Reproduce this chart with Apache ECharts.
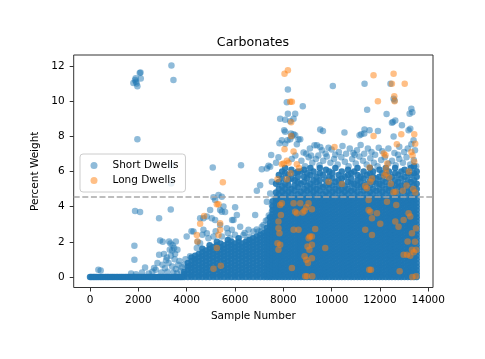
<!DOCTYPE html>
<html>
<head>
<meta charset="utf-8">
<script src="https://cdn.jsdelivr.net/npm/echarts@6/dist/echarts.min.js"></script>
<style>
  html, body { margin: 0; padding: 0; background: #fff; }
  #chart { width: 485px; height: 359px; }
</style>
</head>
<body>
<div id="chart"></div>
<script>
const xTicks = [0, 2000, 4000, 6000, 8000, 10000, 12000, 14000]
const yTicks = [0, 2, 4, 6, 8, 10, 12]
const threshold = 4.58

// short dwells that read 0 %, first part of the run
const shortZeroX = [
  0, 60, 130, 200, 270, 340, 420, 490, 560, 640, 710, 780, 860, 930, 1000, 1080,
  1150, 1230, 1300, 1370, 1450, 1520, 1600, 1670, 1740, 1820, 1890, 1960, 2040,
  2110, 2190, 2260, 2330, 2410, 2480, 2560, 2630, 2700, 2780, 2850, 2920, 3000,
  3070, 3150, 3220, 3290, 3370, 3440, 3520, 3590, 3660, 3740, 3810,
]

// dense part of the short dwells, read column by column (sample number -> weights)
const shortColX = [
  3900, 4050, 4200, 4350, 4500, 4650, 4800, 4950, 5100, 5250, 5400, 5550, 5700,
  5850, 6000, 6150, 6300, 6450, 6600, 6750, 6900, 7050, 7200, 7330, 7450,
  7560, 7700, 7815, 7950, 8075, 8210, 8335, 8470, 8600, 8725, 8860, 8985, 9120,
  9250, 9375, 9510, 9640, 9765, 9900, 10030, 10155, 10290, 10420, 10545, 10680,
  10810, 10935, 11070, 11200, 11325, 11460, 11590, 11715, 11850, 11980, 12105,
  12240, 12370, 12495, 12630, 12760, 12885, 13020, 13150, 13275, 13410, 13520,
]
const shortColY = [
  [0,.15,.3],
  [0,.2,.4,.6,.8],
  [0,.1,.3,.5,.7,.9,1.1],
  [0,.2,.4,.6,.8,1,1.2],
  [0,.1,.3,.5,.7,.9,1.1,1.3],
  [0,.2,.4,.6,.8,1,1.2,1.4,1.6],
  [0,.1,.3,.5,.7,.9,1.1,1.3,1.5],
  [0,.2,.4,.6,.8,1,1.2,1.4,1.6,1.8],
  [0,.1,.3,.5,.7,.9,1.1,1.3,1.5,1.7],
  [0,.2,.4,.6,.8,1,1.2,1.4,1.6,1.8,2],
  [0,.1,.3,.5,.7,.9,1.1,1.3,1.5,1.7,1.9],
  [0,.2,.4,.6,.8,1,1.2,1.4,1.6,1.8],
  [0,.1,.3,.5,.7,.9,1.1,1.3,1.5,1.7,1.9,2.1],
  [0,.2,.4,.6,.8,1,1.2,1.4,1.6,1.8,2],
  [0,.1,.3,.5,.7,.9,1.1,1.3,1.5,1.7,1.9],
  [0,.2,.4,.6,.8,1,1.2,1.4,1.6,1.8,2,2.2],
  [0,.1,.3,.5,.7,.9,1.1,1.3,1.5,1.7,1.9],
  [0,.2,.4,.6,.8,1,1.2,1.4,1.6,1.8,2],
  [0,.1,.3,.5,.7,.9,1.1,1.3,1.5,1.7,1.9,2.1],
  [0,.2,.4,.6,.8,1,1.2,1.4,1.6,1.8,2,2.2],
  [0,.1,.3,.5,.7,.9,1.1,1.3,1.5,1.7,1.9,2.1,2.3],
  [0,.2,.4,.6,.8,1,1.2,1.4,1.6,1.8,2,2.2,2.4],
  [0,.1,.3,.5,.7,.9,1.1,1.3,1.5,1.7,1.9,2.1,2.3,2.5],
  [0,.2,.4,.6,.8,1,1.2,1.4,1.6,1.8,2,2.2,2.4,2.6,2.8],
  [0,.1,.3,.5,.7,.9,1.1,1.3,1.5,1.7,1.9,2.1,2.3,2.5,2.7,2.9,3.1,3.4],
  [0,.2,.4,.6,.8,1,1.2,1.4,1.6,1.8,2,2.2,2.4,2.6,2.8,3,3.2,3.4,3.6,3.8,4,4.3],
  [0,.1,.3,.5,.7,.9,1.1,1.3,1.5,1.7,1.9,2.1,2.3,2.5,2.7,2.9,3.1,3.3,3.5,3.7,3.9,4.1,4.3,4.5,4.8,5.3],
  [0,.2,.4,.6,.8,1,1.2,1.4,1.6,1.8,2,2.2,2.4,2.6,2.8,3,3.2,3.4,3.6,3.8,4,4.2,4.4,4.7,5,5.4,5.8],
  [0,.1,.3,.5,.7,.9,1.1,1.3,1.5,1.7,1.9,2.1,2.3,2.5,2.7,2.9,3.1,3.3,3.5,3.7,3.9,4.1,4.3,4.5,4.85,5.15,5.6,6],
  [0,.2,.4,.6,.8,1,1.2,1.4,1.6,1.8,2,2.2,2.4,2.6,2.8,3,3.2,3.4,3.6,3.8,4,4.2,4.4,4.7,5,5.3,5.9,6.2],
  [0,.1,.3,.5,.7,.9,1.1,1.3,1.5,1.7,1.9,2.1,2.3,2.5,2.7,2.9,3.1,3.3,3.5,3.7,3.9,4.1,4.3,4.5,4.85,5.2,5.5,5.8],
  [0,.2,.4,.6,.8,1,1.2,1.4,1.6,1.8,2,2.2,2.4,2.6,2.8,3,3.2,3.4,3.6,3.8,4,4.2,4.4,4.7,5,5.6,6.1],
  [0,.1,.3,.5,.7,.9,1.1,1.3,1.5,1.7,1.9,2.1,2.3,2.5,2.7,2.9,3.1,3.3,3.5,3.7,3.9,4.1,4.3,4.5,4.9,5.2,5.5,5.9],
  [0,.2,.4,.6,.8,1,1.2,1.4,1.6,1.8,2,2.2,2.4,2.6,2.8,3,3.2,3.4,3.6,3.8,4,4.2,4.4,4.7,5.1,5.4,5.7,6],
  [0,.1,.3,.5,.7,.9,1.1,1.3,1.5,1.7,1.9,2.1,2.3,2.5,2.7,2.9,3.1,3.3,3.5,3.7,3.9,4.1,4.3,4.5,4.85,5.3,6],
  [0,.2,.4,.6,.8,1,1.2,1.4,1.6,1.8,2,2.2,2.4,2.6,2.8,3,3.2,3.4,3.6,3.8,4,4.2,4.4,4.7,5,5.4,5.7,6.1],
  [0,.1,.3,.5,.7,.9,1.1,1.3,1.5,1.7,1.9,2.1,2.3,2.5,2.7,2.9,3.1,3.3,3.5,3.7,3.9,4.1,4.3,4.5,4.9,5.2,5.6,5.9],
  [0,.2,.4,.6,.8,1,1.2,1.4,1.6,1.8,2,2.2,2.4,2.6,2.8,3,3.2,3.4,3.6,3.8,4,4.2,4.4,4.7,5,5.3,5.8,6.2],
  [0,.1,.3,.5,.7,.9,1.1,1.3,1.5,1.7,1.9,2.1,2.3,2.5,2.7,2.9,3.1,3.3,3.5,3.7,3.9,4.1,4.3,4.5,4.85,5.15,5.5,6],
  [0,.2,.4,.6,.8,1,1.2,1.4,1.6,1.8,2,2.2,2.4,2.6,2.8,3,3.2,3.4,3.6,3.8,4,4.2,4.4,4.7,5,5.4,5.7],
  [0,.1,.3,.5,.7,.9,1.1,1.3,1.5,1.7,1.9,2.1,2.3,2.5,2.7,2.9,3.1,3.3,3.5,3.7,3.9,4.1,4.3,4.5,4.9,5.2,5.5,5.9,6.2],
  [0,.2,.4,.6,.8,1,1.2,1.4,1.6,1.8,2,2.2,2.4,2.6,2.8,3,3.2,3.4,3.6,3.8,4,4.2,4.4,4.7,5.1,5.8],
  [0,.1,.3,.5,.7,.9,1.1,1.3,1.5,1.7,1.9,2.1,2.3,2.5,2.7,2.9,3.1,3.3,3.5,3.7,3.9,4.1,4.3,4.5,4.85,5.2,5.5,6.1],
  [0,.2,.4,.6,.8,1,1.2,1.4,1.6,1.8,2,2.2,2.4,2.6,2.8,3,3.2,3.4,3.6,3.8,4,4.2,4.4,4.7,5,5.3,5.7,6],
  [0,.1,.3,.5,.7,.9,1.1,1.3,1.5,1.7,1.9,2.1,2.3,2.5,2.7,2.9,3.1,3.3,3.5,3.7,3.9,4.1,4.3,4.5,4.85,5.2,5.6,5.9],
  [0,.2,.4,.6,.8,1,1.2,1.4,1.6,1.8,2,2.2,2.4,2.6,2.8,3,3.2,3.4,3.6,3.8,4,4.2,4.4,4.7,5,5.4,6.2],
  [0,.1,.3,.5,.7,.9,1.1,1.3,1.5,1.7,1.9,2.1,2.3,2.5,2.7,2.9,3.1,3.3,3.5,3.7,3.9,4.1,4.3,4.5,4.9,5.2,5.5,5.8],
  [0,.2,.4,.6,.8,1,1.2,1.4,1.6,1.8,2,2.2,2.4,2.6,2.8,3,3.2,3.4,3.6,3.8,4,4.2,4.4,4.7,5,5.3,5.6,6],
  [0,.1,.3,.5,.7,.9,1.1,1.3,1.5,1.7,1.9,2.1,2.3,2.5,2.7,2.9,3.1,3.3,3.5,3.7,3.9,4.1,4.3,4.5,4.85,5.15,5.7],
  [0,.2,.4,.6,.8,1,1.2,1.4,1.6,1.8,2,2.2,2.4,2.6,2.8,3,3.2,3.4,3.6,3.8,4,4.2,4.4,4.7,5,5.4,5.8,6.1],
  [0,.1,.3,.5,.7,.9,1.1,1.3,1.5,1.7,1.9,2.1,2.3,2.5,2.7,2.9,3.1,3.3,3.5,3.7,3.9,4.1,4.3,4.5,4.9,5.3,5.6,5.9],
  [0,.2,.4,.6,.8,1,1.2,1.4,1.6,1.8,2,2.2,2.4,2.6,2.8,3,3.2,3.4,3.6,3.8,4,4.2,4.4,4.7,5,5.3,6],
  [0,.1,.3,.5,.7,.9,1.1,1.3,1.5,1.7,1.9,2.1,2.3,2.5,2.7,2.9,3.1,3.3,3.5,3.7,3.9,4.1,4.3,4.5,4.85,5.2,5.5,5.8,6.2],
  [0,.2,.4,.6,.8,1,1.2,1.4,1.6,1.8,2,2.2,2.4,2.6,2.8,3,3.2,3.4,3.6,3.8,4,4.2,4.4,4.7,5.1,5.4,5.7],
  [0,.1,.3,.5,.7,.9,1.1,1.3,1.5,1.7,1.9,2.1,2.3,2.5,2.7,2.9,3.1,3.3,3.5,3.7,3.9,4.1,4.3,4.5,4.9,5.2,5.6,6],
  [0,.2,.4,.6,.8,1,1.2,1.4,1.6,1.8,2,2.2,2.4,2.6,2.8,3,3.2,3.4,3.6,3.8,4,4.2,4.4,4.7,5,5.3,5.8],
  [0,.1,.3,.5,.7,.9,1.1,1.3,1.5,1.7,1.9,2.1,2.3,2.5,2.7,2.9,3.1,3.3,3.5,3.7,3.9,4.1,4.3,4.5,4.85,5.2,5.5,5.9,6.2],
  [0,.2,.4,.6,.8,1,1.2,1.4,1.6,1.8,2,2.2,2.4,2.6,2.8,3,3.2,3.4,3.6,3.8,4,4.2,4.4,4.7,5,5.4,5.7,6],
  [0,.1,.3,.5,.7,.9,1.1,1.3,1.5,1.7,1.9,2.1,2.3,2.5,2.7,2.9,3.1,3.3,3.5,3.7,3.9,4.1,4.3,4.5,4.9,5.3,5.6],
  [0,.2,.4,.6,.8,1,1.2,1.4,1.6,1.8,2,2.2,2.4,2.6,2.8,3,3.2,3.4,3.6,3.8,4,4.2,4.4,4.7,5,5.3,5.7,6.1],
  [0,.1,.3,.5,.7,.9,1.1,1.3,1.5,1.7,1.9,2.1,2.3,2.5,2.7,2.9,3.1,3.3,3.5,3.7,3.9,4.1,4.3,4.5,4.85,5.2,5.5,5.9],
  [0,.2,.4,.6,.8,1,1.2,1.4,1.6,1.8,2,2.2,2.4,2.6,2.8,3,3.2,3.4,3.6,3.8,4,4.2,4.4,4.7,5,5.4,5.8,6.2],
  [0,.1,.3,.5,.7,.9,1.1,1.3,1.5,1.7,1.9,2.1,2.3,2.5,2.7,2.9,3.1,3.3,3.5,3.7,3.9,4.1,4.3,4.5,4.9,5.2,5.6,6],
  [0,.2,.4,.6,.8,1,1.2,1.4,1.6,1.8,2,2.2,2.4,2.6,2.8,3,3.2,3.4,3.6,3.8,4,4.2,4.4,4.7,5,5.3,5.7],
  [0,.1,.3,.5,.7,.9,1.1,1.3,1.5,1.7,1.9,2.1,2.3,2.5,2.7,2.9,3.1,3.3,3.5,3.7,3.9,4.1,4.3,4.5,4.85,5.2,5.5,5.9,6.2],
  [0,.2,.4,.6,.8,1,1.2,1.4,1.6,1.8,2,2.2,2.4,2.6,2.8,3,3.2,3.4,3.6,3.8,4,4.2,4.4,4.7,5.1,5.4,5.8],
  [0,.1,.3,.5,.7,.9,1.1,1.3,1.5,1.7,1.9,2.1,2.3,2.5,2.7,2.9,3.1,3.3,3.5,3.7,3.9,4.1,4.3,4.5,4.9,5.2,5.6,6],
  [0,.2,.4,.6,.8,1,1.2,1.4,1.6,1.8,2,2.2,2.4,2.6,2.8,3,3.2,3.4,3.6,3.8,4,4.2,4.4,4.7,5,5.3,5.7,6.1],
  [0,.1,.3,.5,.7,.9,1.1,1.3,1.5,1.7,1.9,2.1,2.3,2.5,2.7,2.9,3.1,3.3,3.5,3.7,3.9,4.1,4.3,4.5,4.85,5.2,5.5,5.9],
  [0,.2,.4,.6,.8,1,1.2,1.4,1.6,1.8,2,2.2,2.4,2.6,2.8,3,3.2,3.4,3.6,3.8,4,4.2,4.4,4.7,5,5.4,5.8,6.2],
  [0,.1,.3,.5,.7,.9,1.1,1.3,1.5,1.7,1.9,2.1,2.3,2.5,2.7,2.9,3.1,3.3,3.5,3.7,3.9,4.1,4.3,4.5,4.9,5.2,5.5,5.9,6.3],
  [0,.2,.4,.6,.8,1,1.2,1.4,1.6,1.8,2,2.2,2.4,2.6,2.8,3,3.2,3.4,3.6,3.8,4,4.2,4.4,4.7,5,5.3,5.7,6],
]

// scattered short dwells read one by one
const shortPoints = [
  [1795,11.03],[1864,11.2],[1900,11.1],[1930,11.0],[1960,10.85],[1890,11.3],[2058,11.6],[2090,11.62],
  [2100,11.28],[3370,12.02],[3452,11.2],[1960,7.83],[3370,6.35],[3360,5.32],
  [1864,3.75],[2071,3.7],[2858,3.34],[3342,3.83],[1836,1.77],[1836,0.98],[345,0.41],[441,0.37],
  [2278,0.54],[1700,0.2],[1900,0.15],[2150,0.25],
  [2900,2.07],[3010,2.0],[3272,2.01],[3550,2.01],[3480,1.64],[3616,1.55],[3330,1.9],[3400,1.5],
  [3060,1.3],[2860,1.26],[3180,1.1],[3350,1.2],[3500,1.0],[3700,0.9],[2790,0.79],[2651,0.51],
  [2720,0.41],[3000,0.7],[3100,0.5],[3250,0.8],[3400,0.6],[3550,0.45],[3650,0.7],[3750,0.35],
  [3200,0.3],[3450,0.25],[2950,0.25],[3600,0.2],[3800,0.55],[2580,0.3],[2430,0.2],[3300,1.55],
  [3420,1.8],[3150,0.95],[3520,1.3],
  [4280,2.58],[4420,1.64],[4694,2.68],[4834,3.43],[4971,3.81],[5040,3.34],[5177,3.24],[4834,2.49],
  [5110,2.3],[5455,2.3],[5662,2.77],[5938,3.24],[5870,2.68],[6213,2.86],[6351,2.39],[6558,2.68],
  [6765,2.58],[6972,2.58],[7180,2.96],[7346,3.24],[7526,3.71],[7526,4.09],[7320,4.28],[7456,4.75],
  [6835,3.52],[6077,3.52],[5522,4.0],[5590,3.7],[5385,2.96],[4557,1.92],[4350,0.98],[4140,1.17],
  [5080,6.22],[6250,6.35],[5317,4.66],[5455,4.56],[5110,4.53],[5177,4.37],[5385,3.81],[5455,3.71],
  [4557,3.34],[4694,3.34],[6006,3.96],[5880,3.24],[6905,4.9],[7278,3.2],[7112,2.86],[7526,5.41],
  [7319,6.17],[7457,6.26],[7110,6.13],[7387,6.32],[7040,5.22],[7498,6.94],
  [4000,2.3],[4200,2.6],[4650,2.4],[4900,2.2],[5200,2.6],[5700,2.5],[6000,2.4],[6400,2.5],
  [6600,2.3],[6900,2.7],[7100,2.6],[7400,3.5],[5800,2.2],[6500,2.1],[4450,2.0],[3950,1.0],
  [3900,0.7],[4100,0.6],
  [8190,10.66],[8145,9.94],[8190,9.28],[8492,9.28],[7870,9.0],[8078,8.94],[8424,9.0],[8285,8.86],
  [8806,9.7],[8314,8.15],[8424,8.11],[8036,8.34],[8078,8.26],[8492,8.05],[8355,8.0],[7940,7.77],
  [8175,7.77],[8630,7.81],[7840,7.6],[8078,7.58],[8561,7.54],[8700,7.83],[8285,7.83],[8838,7.07],
  [9528,8.38],[9640,8.3],[10050,10.86],[10530,8.21],[11363,10.98],[11470,9.5],[11156,8.05],
  [11350,8.15],[11360,8.39],[11225,8.11],[11570,8.34],[11917,8.3],[12275,9.26],[12435,10.98],
  [12565,10.13],[12606,10.03],[12538,8.81],[12495,8.77],[12635,8.9],[12565,7.99],[12910,8.62],
  [13186,8.34],[13255,8.43],[13300,9.57],[13340,9.37],[13228,9.28],[13390,7.77],[9290,7.49],
  [9390,7.49],[9528,7.39],[9870,7.35],
  [9600,7.2],[9750,7.0],[10000,7.25],[10150,6.95],[10300,7.1],[10450,7.45],[10600,7.0],[10750,7.3],
  [10900,7.05],[11050,7.2],[11200,7.5],[11350,7.0],[11500,7.3],[11650,7.1],[11800,6.95],[11950,7.35],
  [12100,7.15],[12350,7.3],[12600,7.05],[12800,7.4],[13000,7.1],[13150,7.3],[13300,7.55],[13450,7.2],
  [9100,7.3],[8950,7.0],[9450,6.9],
  [7700,6.5],[7800,6.8],[8350,6.7],[8500,6.9],[8750,6.6],[8900,6.3],[9050,6.8],[9200,6.5],
  [9350,6.7],[9500,6.35],[9650,6.6],[9800,6.85],[9950,6.5],[10100,6.7],[10250,6.4],[10400,6.8],
  [10550,6.55],[10700,6.3],[10850,6.7],[11000,6.45],[11150,6.85],[11300,6.6],[11450,6.4],[11600,6.75],
  [11750,6.5],[11900,6.3],[12050,6.65],[12200,6.8],[12350,6.45],[12500,6.6],[12650,6.35],[12800,6.7],
  [12950,6.5],[13100,6.8],[13250,6.4],[13400,6.65],[13500,6.3],[9150,6.9],[10950,6.95],[12750,6.95],
]

const longPoints = [
  [8050,11.55],[8190,11.75],[8285,9.96],[8355,9.96],[8326,8.8],[8326,8.02],[8050,7.26],[8424,7.13],
  [7940,6.41],[8147,6.6],[8561,6.41],[8008,6.45],[8216,6.49],[7760,5.55],[8145,5.55],[8300,5.9],[8650,6.2],
  [11735,11.47],[12565,11.56],[13025,10.98],[12495,10.98],[11915,9.99],[12593,10.28],[12606,9.99],
  [11735,8.02],[12883,8.11],[12700,7.54],[13420,8.11],[13460,7.58],[10120,7.39],
  [11570,6.22],[11670,5.6],[11600,5.41],[11390,5.17],[11460,5.04],[9872,5.41],[10425,5.28],
  [12160,7.02],[12230,6.92],[12300,6.45],[12260,6.17],[12180,5.77],[12260,5.9],[12380,5.65],
  [12450,5.3],[12560,4.81],[12650,4.85],[13300,7.1],[13350,6.9],[13420,6.55],[13200,6.0],
  [13100,5.2],[12950,4.9],[13380,5.0],[13460,4.8],
  [5497,5.38],[5248,4.13],[5317,4.13],[4722,3.47],[4557,3.02],[4420,2.39],[4445,2.02],[5385,3.06],
  [5385,2.68],[5317,2.39],[5248,1.64],[5110,0.47],[5414,0.64],
  [7940,4.19],[7870,4.09],[7900,3.52],[7800,3.15],[7800,2.77],[7760,1.92],[7800,1.55],[7840,2.49],
  [7870,1.83],[8425,4.19],[8700,4.19],[8560,3.62],[8425,2.68],[8630,2.68],[8805,3.66],[9045,4.19],
  [8490,3.71],[8950,3.96],[8880,3.77],[8355,0.51],[8906,0.04],[8880,1.17],[9050,2.2],[9100,2.3],
  [9000,1.73],[9080,1.55],[8950,0.98],[9020,0.79],[9200,0.04],[8980,0.04],[9184,3.85],[9320,2.72],
  [9184,2.3],[9184,1.83],[9184,1.07],[9735,1.64],
  [11530,4.37],[11530,3.81],[11600,3.71],[11670,3.34],[11876,3.62],[12013,3.02],[12290,4.28],
  [12675,4.09],[11390,2.68],[11670,2.39],[11556,0.41],[11630,0.41],
  [12635,3.15],[12770,2.86],[12980,3.24],[13185,3.62],[13255,3.43],[13490,2.77],[13325,2.49],
  [13145,2.02],[13325,1.55],[13500,1.55],[12980,1.26],[13120,1.26],[13255,1.2],[12815,0.32],
  [13490,0.04],[13340,0.0],[13400,1.4],[13450,2.0],
]

// the packed part of the run: zero readings plus the column readings
const shortDense = shortZeroX.map(x => [x, 0])
shortColX.forEach((x, i) => shortColY[i].forEach(y => shortDense.push([x, y])))

const font = 'DejaVu Sans'
const axisColor = '#333'

echarts.init(document.getElementById('chart')).setOption({
  animation: false,
  backgroundColor: '#fff',
  title: {
    text: 'Carbonates',
    left: 253,
    top: 36,
    padding: 0,
    textAlign: 'center',
    textStyle: { fontFamily: font, fontSize: 12.6, fontWeight: 'normal', color: '#000' },
  },
  legend: {
    data: ['Short Dwells', 'Long Dwells'],
    orient: 'vertical',
    left: 80,
    top: 154,
    padding: [6, 7, 6, 10.5],
    itemGap: 4,
    itemWidth: 27,
    itemHeight: 7,
    icon: 'circle',
    backgroundColor: 'rgba(255,255,255,0.8)',
    borderColor: '#cccccc',
    borderWidth: 1,
    borderRadius: 3,
    textStyle: { fontFamily: font, fontSize: 10.5, color: '#000' },
  },
  grid: {
    left: 73.7,
    right: 52,
    top: 55,
    bottom: 71.5,
    show: true,
    borderColor: axisColor,
    borderWidth: 1,
    outerBoundsMode: 'none',
  },
  xAxis: {
    type: 'value',
    min: -676,
    max: 14196,
    name: 'Sample Number',
    nameLocation: 'middle',
    nameGap: 20,
    nameTextStyle: { fontFamily: font, fontSize: 10.5, color: '#000' },
    axisLine: { show: false, onZero: false },
    splitLine: { show: false },
    axisTick: { show: true, length: 4, customValues: xTicks, lineStyle: { color: axisColor } },
    axisLabel: {
      customValues: xTicks, margin: 7, fontFamily: font, fontSize: 10.5, color: '#000',
      formatter: v => String(v),
    },
  },
  yAxis: {
    type: 'value',
    min: -0.6,
    max: 12.62,
    name: 'Percent Weight',
    nameLocation: 'middle',
    nameGap: 24,
    nameTextStyle: { fontFamily: font, fontSize: 10.5, color: '#000' },
    axisLine: { show: false, onZero: false },
    splitLine: { show: false },
    axisTick: { show: true, length: 4, customValues: yTicks, lineStyle: { color: axisColor } },
    axisLabel: { customValues: yTicks, margin: 9, fontFamily: font, fontSize: 10.5, color: '#000' },
  },
  series: [
    {
      name: 'Short Dwells',
      type: 'scatter',
      large: false,
      symbolSize: 6.5,
      itemStyle: { color: '#1f77b4', opacity: 0.5 },
      data: shortPoints,
    },
    {
      // same legend entry; thousands of overlapping samples, so drawn near-solid
      name: 'Short Dwells',
      type: 'scatter',
      large: false,
      symbolSize: 6.5,
      itemStyle: { color: '#1f77b4', opacity: 0.9 },
      data: shortDense,
    },
    {
      name: 'Long Dwells',
      type: 'scatter',
      large: false,
      symbolSize: 6.5,
      itemStyle: { color: '#ff7f0e', opacity: 0.5 },
      data: longPoints,
    },
    {
      name: 'threshold',
      type: 'scatter',
      z: 5,
      data: [],
      markLine: {
        silent: true,
        symbol: ['none', 'none'],
        label: { show: false },
        lineStyle: { color: '#a8a8a8', width: 1.5, type: [6, 2.6] },
        data: [{ yAxis: threshold }],
      },
    },
  ],
})
</script>
</body>
</html>
